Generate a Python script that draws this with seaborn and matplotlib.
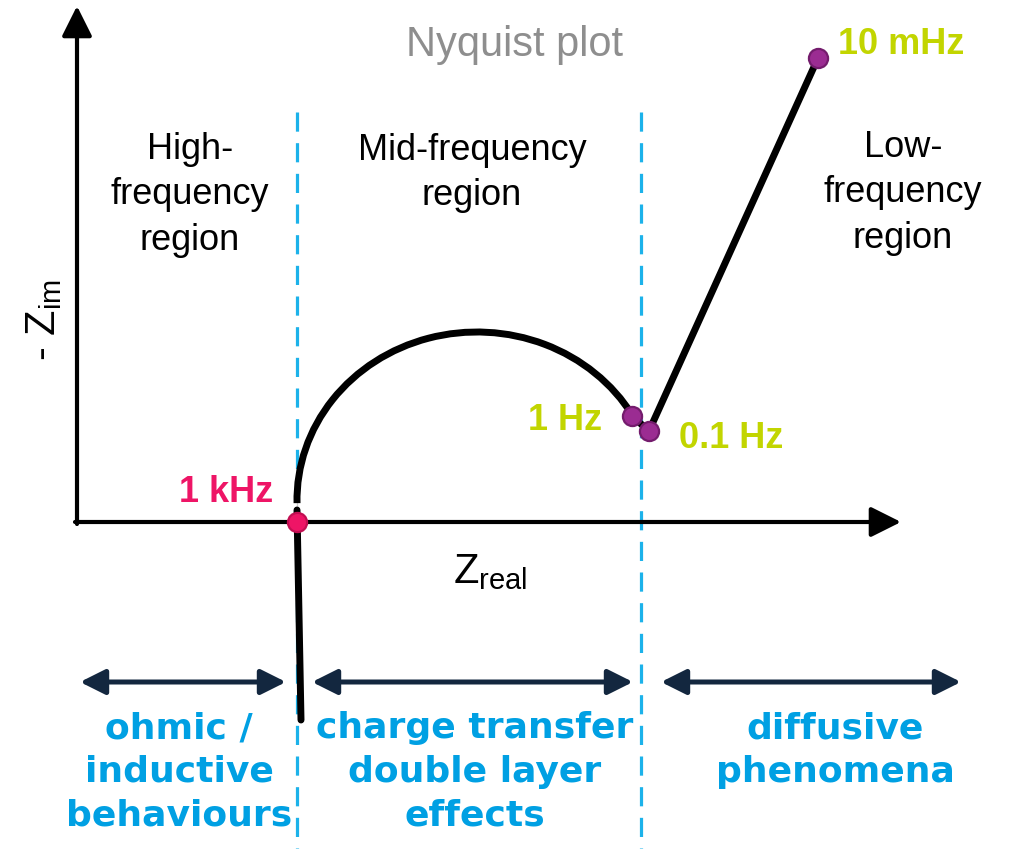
import matplotlib
matplotlib.use('Agg')
import matplotlib.pyplot as plt
from matplotlib.patches import Arc
import seaborn as sns

# Nyquist sketch data (arbitrary impedance units, origin where the axes cross)
r_ohm = 22.0                      # 1 kHz intercept
arc_center = (40.0, 2.2)          # charge-transfer semicircle
arc_width, arc_height = 36.0, 33.6
arc_theta = (28.5, 181.0)

tail_x = [22.4, 22.0, 22.0]       # inductive tail + vertical start of arc
tail_y = [-19.8, 0.0, 2.4]

diff_x = [55.5, 57.2, 74.1]       # 1 Hz -> 0.1 Hz -> 10 mHz
diff_y = [10.6, 9.1, 46.4]

freq_labels = ['1 kHz', '1 Hz', '0.1 Hz', '10 mHz']
freq_x = [r_ohm, 55.5, 57.2, 74.1]
freq_y = [0.0, 10.6, 9.1, 46.4]

region_bounds = [22.0, 56.4]
region_names = ['High-\nfrequency\nregion', 'Mid-frequency\nregion', 'Low-\nfrequency\nregion']
process_names = ['ohmic /\ninductive\nbehaviours', 'charge transfer\ndouble layer\neffects',
                 'diffusive\nphenomena']
process_spans = [(0.3, 20.9), (23.5, 55.6), (58.4, 88.4)]

sns.set_theme(style='white')
plt.rcParams['font.family'] = ['Liberation Sans', 'DejaVu Sans']
plt.rcParams['mathtext.fontset'] = 'custom'
plt.rcParams['mathtext.rm'] = 'Liberation Sans'

fig = plt.figure(figsize=(10.13, 8.49), dpi=100)
ax = fig.add_axes([0, 0, 1, 1])
ax.set_xlim(-7.7, 93.6)
ax.set_ylim(-32.7, 52.2)
ax.axis('off')

black = '#000000'
cyan_line = '#1CB2EA'
cyan_text = '#00A0E3'
lime = '#C2D500'
pink = '#EE1566'
purple = '#9B2C92'
navy = '#13273F'

# axes with arrow heads
head = dict(arrowstyle='-|>,head_length=0.4,head_width=0.2', mutation_scale=46,
            color=black, lw=3.0, shrinkA=0, shrinkB=0)
ax.annotate('', xy=(0, 51.6), xytext=(0, -0.2), arrowprops=head)
ax.annotate('', xy=(82.4, 0), xytext=(-0.2, 0), arrowprops=head)

# region separators
for xb in region_bounds:
    ax.plot([xb, xb], [41.0, -33.0], color=cyan_line, lw=2.3, dashes=(6, 3.6), zorder=1)

# curve
ax.add_patch(Arc(arc_center, arc_width, arc_height, theta1=arc_theta[0], theta2=arc_theta[1],
                 color=black, lw=5.0, zorder=3))
sns.lineplot(x=tail_x, y=tail_y, sort=False, color=black, lw=5.0, ax=ax, zorder=3)
sns.lineplot(x=diff_x, y=diff_y, sort=False, color=black, lw=5.0, ax=ax, zorder=3)

sns.scatterplot(x=freq_x[:1], y=freq_y[:1], s=190, color=pink, edgecolor='#C20F52',
                linewidth=1.6, ax=ax, zorder=5)
sns.scatterplot(x=freq_x[1:], y=freq_y[1:], s=190, color=purple, edgecolor='#741C6D',
                linewidth=1.6, ax=ax, zorder=5)

# frequency labels
lab_pos = [(14.9, 2.9), (48.8, 10.1), (65.4, 8.3), (82.4, 47.8)]
lab_col = [pink, lime, lime, lime]
for t, (tx, ty), c in zip(freq_labels, lab_pos, lab_col):
    ax.text(tx, ty, t, color=c, fontsize=26, fontweight='bold', ha='center', va='center')

# titles and axis names
ax.text(43.8, 47.7, 'Nyquist plot', color='#8E8E8E', fontsize=30, ha='center', va='center')
ax.text(41.3, -5.0, r'$\mathrm{Z}_{\mathrm{real}}$', fontsize=30, color=black,
        ha='center', va='center')
ax.text(-3.3, 20.2, r'- $\mathrm{Z}_{\mathrm{im}}$', fontsize=30, color=black,
        rotation=90, ha='center', va='center')

region_pos = [(11.3, 32.7), (39.5, 34.9), (82.6, 32.9)]
for t, (tx, ty) in zip(region_names, region_pos):
    ax.text(tx, ty, t, fontsize=26, color=black, ha='center', va='center', linespacing=1.38)

# process arrows and labels
dbl = dict(arrowstyle='<|-|>,head_length=0.4,head_width=0.2', mutation_scale=38,
           color=navy, lw=3.6, shrinkA=0, shrinkB=0)
for x0, x1 in process_spans:
    ax.annotate('', xy=(x1, -16.0), xytext=(x0, -16.0), arrowprops=dbl)

proc_pos = [(10.2, -25.0), (39.8, -25.0), (75.8, -22.8)]
for t, (tx, ty) in zip(process_names, proc_pos):
    ax.text(tx, ty, t, fontsize=26, fontweight='bold', color=cyan_text, family='DejaVu Sans',
            ha='center', va='center', linespacing=1.36)

fig.savefig('out.png', dpi=100)
